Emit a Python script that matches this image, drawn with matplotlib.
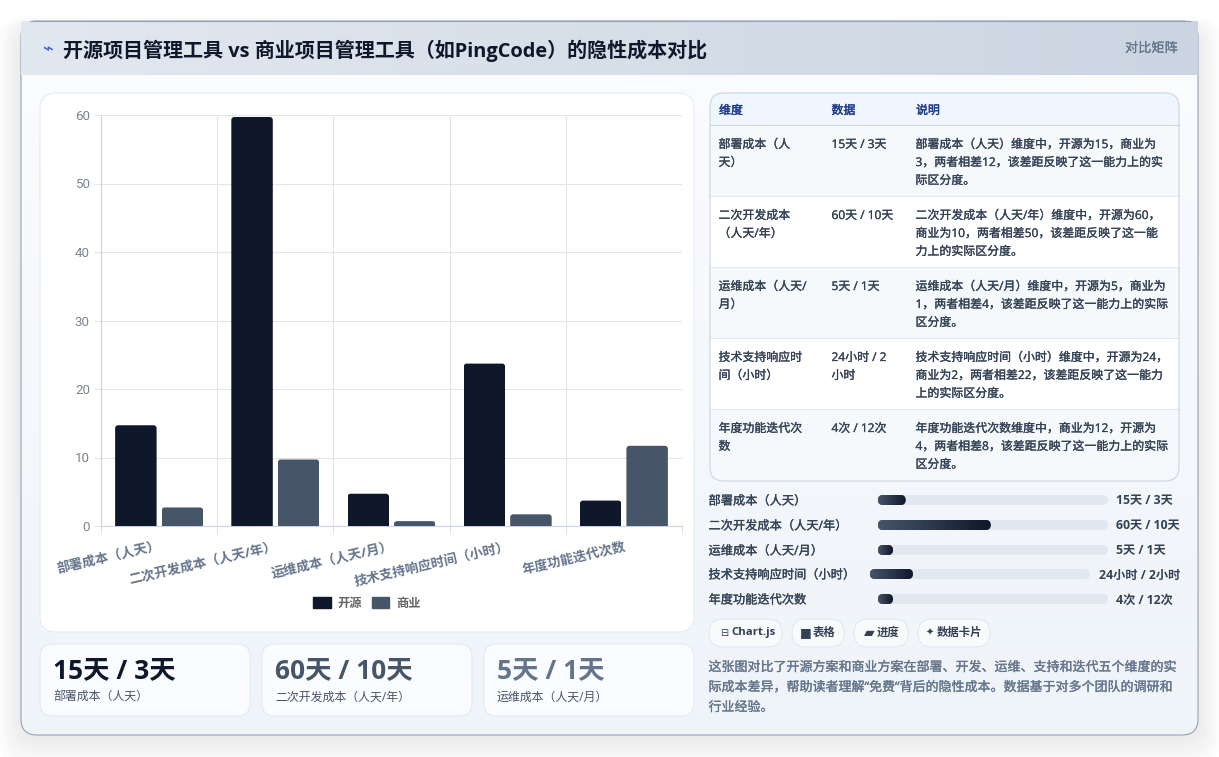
import numpy as np
import matplotlib
matplotlib.use('Agg')
import matplotlib.pyplot as plt
import matplotlib.patheffects as pe
from matplotlib.patches import FancyBboxPatch, Rectangle, Patch
from matplotlib.colors import LinearSegmentedColormap
from matplotlib.transforms import IdentityTransform

plt.rcParams['font.family'] = ['Open Sans', 'Noto Sans CJK SC', 'DejaVu Sans']

# data
categories = ['部署成本（人天）', '二次开发成本（人天/年）', '运维成本（人天/月）', '技术支持响应时间（小时）', '年度功能迭代次数']
open_source = [15, 60, 5, 24, 4]
commercial = [3, 10, 1, 2, 12]
series_names = ['开源', '商业']
y_ticks = [0, 10, 20, 30, 40, 50, 60]

title = '开源项目管理工具 vs 商业项目管理工具（如PingCode）的隐性成本对比'
tag = '对比矩阵'

table_head = ['维度', '数据', '说明']
table_dim = ['部署成本（人\n天）', '二次开发成本\n（人天/年）', '运维成本（人天/\n月）', '技术支持响应时\n间（小时）', '年度功能迭代次\n数']
table_val = ['15天 / 3天', '60天 / 10天', '5天 / 1天', '24小时 / 2\n小时', '4次 / 12次']
table_note = [
    '部署成本（人天）维度中，开源为15，商业为\n3，两者相差12，该差距反映了这一能力上的实\n际区分度。',
    '二次开发成本（人天/年）维度中，开源为60，\n商业为10，两者相差50，该差距反映了这一能\n力上的实际区分度。',
    '运维成本（人天/月）维度中，开源为5，商业为\n1，两者相差4，该差距反映了这一能力上的实际\n区分度。',
    '技术支持响应时间（小时）维度中，开源为24，\n商业为2，两者相差22，该差距反映了这一能力\n上的实际区分度。',
    '年度功能迭代次数维度中，商业为12，开源为\n4，两者相差8，该差距反映了这一能力上的实际\n区分度。',
]

progress_val = ['15天 / 3天', '60天 / 10天', '5天 / 1天', '24小时 / 2小时', '4次 / 12次']
progress_fill = [0.12, 0.49, 0.065, 0.195, 0.065]

chips = ['Chart.js', '表格', '进度', '数据卡片']
chip_icons = ['⊟', '■', '▰', '✦']

kpi_big = ['15天 / 3天', '60天 / 10天', '5天 / 1天']
kpi_small = ['部署成本（人天）', '二次开发成本（人天/年）', '运维成本（人天/月）']
kpi_colors = ['#0f172a', '#475569', '#64748b']

summary = ['这张图对比了开源方案和商业方案在部署、开发、运维、支持和迭代五个维度的实',
           '际成本差异，帮助读者理解“免费”背后的隐性成本。数据基于对多个团队的调研和',
           '行业经验。']

W, H = 1219, 757
fig = plt.figure(figsize=(W / 100, H / 100), dpi=100, facecolor='white')

# page layer, coordinates are pixels from the top left
bg = fig.add_axes([0, 0, 1, 1], zorder=0)
bg.set_axis_off()


def rbox(x0, y0, x1, y1, r, fc='white', ec='none', lw=1.0, alpha=None, z=2, ax=bg):
    p = FancyBboxPatch((x0 + r, y0 + r), x1 - x0 - 2 * r, y1 - y0 - 2 * r,
                       boxstyle=f'round,pad={r},rounding_size={r}',
                       fc=fc, ec=ec, lw=lw, alpha=alpha, zorder=z)
    ax.add_patch(p)
    return p


def gradient(x0, y0, x1, y1, c0, c1, clip=None, z=2, vertical=False):
    cmap = LinearSegmentedColormap.from_list('g', [c0, c1])
    g = np.linspace(0, 1, 256)
    g = g.reshape(-1, 1) if vertical else g.reshape(1, -1)
    im = bg.imshow(g, extent=(x0, x1, y1, y0), cmap=cmap, aspect='auto', zorder=z,
                   vmin=0, vmax=1, interpolation='bilinear')
    if clip is not None:
        im.set_clip_path(clip)
    return im


def body_text(x, y, s, size, color, stroke=0.2, **kw):
    # the page text is a bit heavier than the regular cut, a thin stroke gets it there
    t = bg.text(x, y, s, fontsize=size, color=color, va='center', zorder=4, **kw)
    if stroke:
        t.set_path_effects([pe.withStroke(linewidth=stroke, foreground=color)])
    return t


# shadow
for i in range(20):
    rbox(21 - 24 + i * 1.2, 21 - 4 + i * 0.7, 1198 + 24 - i * 1.2, 735 + 30 - i * 1.4, 24,
         fc='#0f172a', alpha=0.0035, z=1)

# main card
card = rbox(21, 21, 1198, 735, 16, fc='#f4f7fb', z=2)
gradient(21, 21, 1198, 735, '#fbfcfe', '#eff4f9', clip=card, z=2.1, vertical=True)
rbox(21, 21, 1198, 735, 16, fc='none', ec='#94a3b8', lw=0.8, z=2.2)

# header
gradient(21, 21, 1198, 75, '#e2e8f0', '#cbd5e1', z=3)
bg.plot([30, 1190], [21, 21], color='#94a3b8', lw=0.8, zorder=3.1)
bg.text(47, 50, '⌁', fontsize=13, color='#3b5bdb', ha='center', va='center', zorder=4,
        family=['DejaVu Sans'])
bg.text(63, 50.5, title, fontsize=14.45, weight='bold', color='#0f172a', va='center', zorder=4)
body_text(1178, 48.5, tag, 9.5, '#64748b', stroke=0.1, ha='right')

# chart panel
rbox(40, 93, 694, 632, 16, fc='white', ec='#e6ebf2', lw=0.8, z=3)

# KPI cards
for i, x0 in enumerate([40, 262, 484]):
    rbox(x0, 644, x0 + 210, 716, 13, fc='#fafcff', ec='#e3ebf6', lw=0.8, z=3)
    bg.text(x0 + 13, 671, kpi_big[i], fontsize=19, weight='bold', color=kpi_colors[i], va='center', zorder=4)
    body_text(x0 + 13, 697.5, kpi_small[i], 8.6, '#475569', stroke=0)

# table
tb = rbox(710, 93, 1179, 481, 14, fc='#f8fafc', z=3)
row_edges = [125, 196, 267, 338, 409, 481]
hd = Rectangle((710, 93), 469, 32, fc='#eff6ff', ec='none', zorder=3.1)
bg.add_patch(hd)
hd.set_clip_path(tb)
for x, s in zip([719, 831.5, 916], table_head):
    body_text(x, 110.5, s, 8.6, '#1e3a8a', stroke=0.3)
for i in range(5):
    y0, y1 = row_edges[i], row_edges[i + 1]
    r = Rectangle((710, y0), 469, y1 - y0, fc='#ffffff' if i % 2 else '#f6f9fc', ec='none', zorder=3.1)
    bg.add_patch(r)
    r.set_clip_path(tb)
    bg.plot([710, 1179], [y0, y0], color='#cbd5e1' if i == 0 else '#e2e8f0', lw=0.8, zorder=3.2)
    for x, s in zip([718.5, 831.5, 915.5], [table_dim[i], table_val[i], table_note[i]]):
        for k, line in enumerate(s.split('\n')):
            body_text(x, y0 + 19.5 + k * 18, line, 8.6, '#334155')
rbox(710, 93, 1179, 481, 14, fc='none', ec='#cbd5e1', lw=0.8, z=3.3)

# progress rows
row_y = [500, 525, 550, 574, 599]
track_x = [878, 878, 878, 870, 878]
track_w = [230, 230, 230, 220, 230]
for i in range(5):
    y = row_y[i]
    body_text(708.5, y + 1, categories[i], 8.8, '#334155')
    rbox(track_x[i], y - 5, track_x[i] + track_w[i], y + 5, 5, fc='#e2e8f0', z=3)
    x1 = track_x[i] + track_w[i] * progress_fill[i]
    clip = rbox(track_x[i], y - 5, x1, y + 5, 5, fc='#475569', z=3.1)
    gradient(track_x[i], y - 5, x1, y + 5, '#475569', '#0f172a', clip=clip, z=3.2)
    bg.text(1180 if i == 3 else track_x[i] + track_w[i] + 8, y + 1, progress_val[i], fontsize=8.8, weight='bold',
            color='#334155', va='center', ha='right' if i == 3 else 'left', zorder=4)

# chips
chip_x = [(709, 782), (792, 844), (854, 908), (918, 990)]
icon_x = [724, 805.5, 869, 930]
label_x = [731.5, 813, 877, 936.5]
icon_size = [7, 9, 10, 7]
for k, (x0, x1) in enumerate(chip_x):
    rbox(x0, 619, x1, 647, 14, fc='#f8fafc', ec='#e2e8f0', lw=0.8, z=3)
    bg.text(icon_x[k], 633, chip_icons[k], fontsize=icon_size[k], color='#334155', ha='center', va='center',
            zorder=4, family=['DejaVu Sans'])
    bg.text(label_x[k], 633, chips[k], fontsize=8.2, weight='bold', color='#334155', va='center', zorder=4)

# summary text
for y, s in zip([667.5, 687.5, 707.5], summary):
    body_text(708.5, y, s, 9.36, '#64748b')

bg.set_xlim(0, W)
bg.set_ylim(H, 0)

# bar chart
ax = fig.add_axes([101 / W, 1 - 526 / H, 581 / W, 411 / H], zorder=5)
ax.patch.set_alpha(0)
x = np.arange(len(categories))
width = 0.357
offset = 0.2
b1 = ax.bar(x - offset, open_source, width, color='#0f172a', label=series_names[0], zorder=3)
b2 = ax.bar(x + offset, commercial, width, color='#475569', label=series_names[1], zorder=3)
ax.set_xlim(-0.5, 4.5)
ax.set_ylim(0, 60)
fig.canvas.draw()

# rounded tops, bars sit a little below their value like the chart.js border does
for rect in list(b1) + list(b2):
    (px0, py0), (px1, py1) = ax.transData.transform(
        [(rect.get_x(), 0), (rect.get_x() + rect.get_width(), rect.get_height())])
    c = FancyBboxPatch((px0 + 3, py0 - 10), px1 - px0 - 6, py1 - py0 + 5,
                       boxstyle='round,pad=3,rounding_size=3', transform=IdentityTransform())
    rect.set_clip_path(c)

ax.set_yticks(y_ticks)
ax.set_xticks(x)
ax.set_xticklabels(categories, rotation=13, ha='right', va='top', rotation_mode='anchor',
                   fontsize=9.5, weight='bold', color='#64748b')
ax.set_xticks(np.arange(-0.5, 5), minor=True)
ax.tick_params(axis='x', which='major', length=0, pad=10)
ax.tick_params(axis='x', which='minor', length=6, color='#e2e6ea', width=0.8)
ax.tick_params(axis='y', length=5, color='#e2e6ea', width=0.8, labelcolor='#7b8494', pad=3)
for t in ax.get_yticklabels():
    t.set_family(['Roboto', 'DejaVu Sans'])
    t.set_fontsize(9.6)
ax.grid(True, axis='y', color='#e2e6ea', lw=0.8, zorder=0)
ax.grid(True, axis='x', which='minor', color='#e2e6ea', lw=0.8, zorder=0)
ax.grid(False, axis='x', which='major')
ax.set_axisbelow(True)
for side in ['top', 'right']:
    ax.spines[side].set_visible(False)
for side in ['left', 'bottom']:
    ax.spines[side].set_color('#cbd5e1')
    ax.spines[side].set_linewidth(0.8)

handles = [Patch(color='#0f172a', label=series_names[0]), Patch(color='#475569', label=series_names[1])]
leg = ax.legend(handles=handles, ncol=2, loc='center', bbox_to_anchor=(367, 603),
                bbox_transform=bg.transData, frameon=False, fontsize=8.8,
                handlelength=1.4, handleheight=0.95, handletextpad=0.55, columnspacing=0.85,
                borderpad=0)
for t in leg.get_texts():
    t.set_color('#666666')
    t.set_weight('bold')

fig.savefig('out.png', dpi=100, facecolor='white')
